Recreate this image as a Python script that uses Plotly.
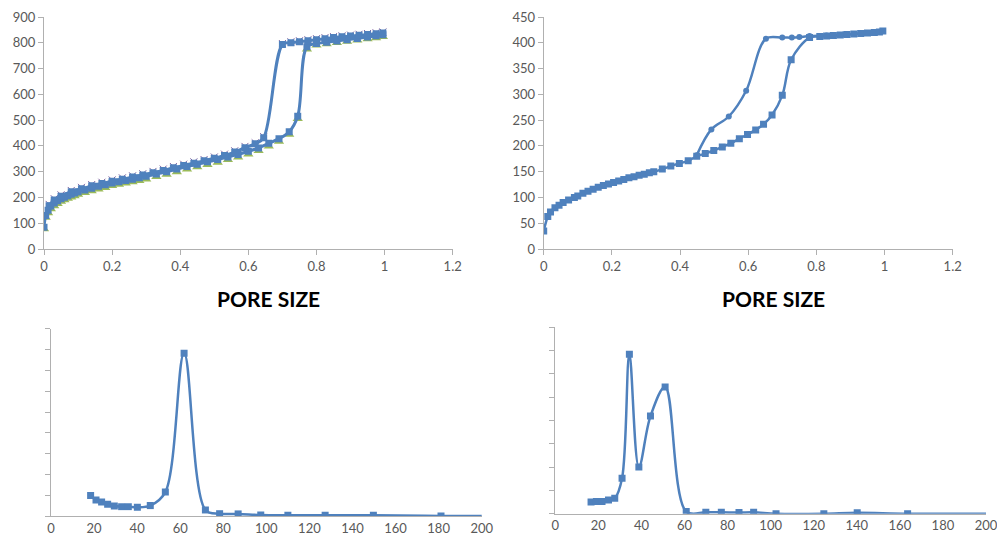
import plotly.graph_objects as go

# ---------------- Data ----------------
# Top-left isotherm (relative pressure vs adsorbed volume)
tl_ads_x = [0.0, 0.005, 0.012, 0.02, 0.03, 0.04, 0.05, 0.06, 0.07, 0.08, 0.09, 0.10, 0.12, 0.14, 0.16,
            0.18, 0.20, 0.22, 0.24, 0.26, 0.28, 0.30, 0.33, 0.36, 0.39, 0.42, 0.45, 0.48, 0.51, 0.54,
            0.57, 0.60, 0.63, 0.66, 0.69, 0.72, 0.745, 0.772, 0.80, 0.83, 0.86, 0.89, 0.92, 0.95, 0.975, 0.995]
tl_ads_y = [84, 130, 150, 167, 178, 187, 195, 201, 207, 212, 217, 222, 229, 236, 243,
            249, 256, 261, 266, 271, 276, 282, 291, 300, 310, 320, 329, 338, 347, 357,
            367, 379, 392, 410, 428, 455, 515, 785, 797, 802, 807, 812, 817, 822, 827, 831]
tl_tri_y = [78, 122, 140, 155, 167, 176, 184, 190, 196, 201, 206, 211, 218, 225, 232,
            238, 245, 250, 255, 260, 265, 271, 280, 289, 299, 309, 318, 327, 336, 346,
            356, 368, 381, 399, 417, 444, 505, 775, 790, 795, 800, 805, 810, 815, 819, 823]
tl_des_x = [0.995, 0.975, 0.95, 0.925, 0.90, 0.875, 0.85, 0.825, 0.80, 0.775, 0.75, 0.725, 0.70,
            0.645, 0.62, 0.59, 0.56, 0.53, 0.50, 0.47, 0.44, 0.41, 0.38, 0.35, 0.32, 0.29, 0.26,
            0.23, 0.20, 0.17, 0.14, 0.11, 0.08, 0.05, 0.03, 0.015]
tl_des_y = [838, 835, 832, 829, 826, 823, 820, 816, 812, 808, 804, 800, 793,
            432, 408, 393, 376, 363, 352, 342, 333, 324, 315, 305, 296, 287, 279,
            271, 263, 254, 245, 234, 222, 205, 190, 168]
tl_x_y = [842, 839, 836, 833, 830, 827, 824, 820, 816, 812, 808, 804, 797,
          436, 412, 398, 381, 368, 357, 347, 338, 329, 320, 310, 301, 292, 284,
          276, 268, 259, 250, 239, 227, 210, 195, 173]

# Top-right isotherm
tr_sq_x = [0.0, 0.012, 0.02, 0.033, 0.045, 0.057, 0.073, 0.09, 0.10, 0.115, 0.13, 0.145, 0.16, 0.175,
           0.19, 0.205, 0.22, 0.235, 0.25, 0.265, 0.28, 0.295, 0.31, 0.323, 0.348, 0.373, 0.398,
           0.424, 0.449, 0.474, 0.499, 0.524, 0.549, 0.574, 0.598, 0.622, 0.645, 0.67, 0.70, 0.726,
           0.78, 0.81, 0.83, 0.85, 0.87, 0.89, 0.91, 0.93, 0.95, 0.97, 0.985, 0.995]
tr_sq_y = [35, 63, 72, 80, 85, 90, 95, 100, 103, 108, 112, 116, 120, 123,
           126, 129, 132, 135, 138, 140, 143, 145, 148, 150, 155, 161, 166,
           171, 180, 185, 191, 198, 205, 214, 222, 231, 242, 260, 298, 367,
           410, 412, 413, 414, 415, 416, 417, 418, 419, 420, 421, 423]
tr_ci_x = [0.449, 0.492, 0.543, 0.594, 0.652, 0.70, 0.728, 0.75, 0.78, 0.83, 0.88, 0.93, 0.97, 0.995]
tr_ci_y = [182, 232, 257, 307, 408, 410, 410, 411, 413, 414, 416, 418, 420, 423]

# Bottom-left pore size distribution
bl_x = [18.4, 20.9, 23.5, 26.3, 29.4, 32.8, 35.9, 40.1, 46.1, 53.1, 61.8, 71.7, 78.3, 86.9,
        97.4, 110, 127.3, 149.7, 181.1, 215]
bl_y = [0.98, 0.77, 0.67, 0.56, 0.48, 0.45, 0.45, 0.42, 0.50, 1.15, 7.82, 0.29, 0.11, 0.10,
        0.05, 0.04, 0.04, 0.04, 0.0, 0.0]

# Bottom-right pore size distribution
br_x = [16.6, 19.1, 21.7, 24.7, 27.6, 31.0, 34.4, 38.8, 44.2, 51.0, 60.8, 69.9, 77.1, 85.3,
        92.1, 102.5, 124.7, 140.2, 163.6, 215]
br_y = [0.50, 0.52, 0.52, 0.59, 0.66, 1.52, 6.84, 2.00, 4.19, 5.44, 0.09, 0.06, 0.06, 0.05,
        0.06, 0.0, 0.0, 0.04, 0.0, 0.0]

top_x_ticks = [0, 0.2, 0.4, 0.6, 0.8, 1.0, 1.2]
bottom_x_ticks = [0, 20, 40, 60, 80, 100, 120, 140, 160, 180, 200]
title_text = "PORE SIZE"

# ---------------- Styles ----------------
BLUE = "#4F81BD"
GREEN = "#9BBB59"
PURPLE = "#8064A2"
AXIS = "#B0B0B0"
TICKFONT = dict(family="Lato, Carlito, sans-serif", size=13, color="#595959")

fig = go.Figure()

# Top-left
fig.add_trace(go.Scatter(x=tl_ads_x, y=tl_tri_y, mode="markers", xaxis="x", yaxis="y",
                         marker=dict(symbol="triangle-up", size=9, color=GREEN)))
fig.add_trace(go.Scatter(x=tl_des_x, y=tl_x_y, mode="markers", xaxis="x", yaxis="y",
                         marker=dict(symbol="x-thin", size=7, line=dict(width=1, color=PURPLE))))
fig.add_trace(go.Scatter(x=tl_ads_x, y=tl_ads_y, mode="lines+markers", xaxis="x", yaxis="y",
                         line=dict(color=BLUE, width=3, shape="spline"),
                         marker=dict(symbol="square", size=7, color=BLUE)))
fig.add_trace(go.Scatter(x=tl_des_x, y=tl_des_y, mode="lines+markers", xaxis="x", yaxis="y",
                         line=dict(color=BLUE, width=3, shape="spline"),
                         marker=dict(symbol="square", size=7, color=BLUE)))

# Top-right
fig.add_trace(go.Scatter(x=tr_ci_x, y=tr_ci_y, mode="lines+markers", xaxis="x2", yaxis="y2",
                         line=dict(color=BLUE, width=2.5, shape="spline"),
                         marker=dict(symbol="circle", size=6, color=BLUE)))
fig.add_trace(go.Scatter(x=tr_sq_x, y=tr_sq_y, mode="lines+markers", xaxis="x2", yaxis="y2",
                         line=dict(color=BLUE, width=2.5, shape="spline"),
                         marker=dict(symbol="square", size=7, color=BLUE)))

# Bottom-left
fig.add_trace(go.Scatter(x=bl_x, y=bl_y, mode="lines+markers", xaxis="x3", yaxis="y3",
                         line=dict(color=BLUE, width=2.5, shape="spline"),
                         marker=dict(symbol="square", size=7, color=BLUE)))
# Bottom-right
fig.add_trace(go.Scatter(x=br_x, y=br_y, mode="lines+markers", xaxis="x4", yaxis="y4",
                         line=dict(color=BLUE, width=2.5, shape="spline"),
                         marker=dict(symbol="square", size=7, color=BLUE)))

W, H = 997, 539


def xd(a, b):
    return [a / W, b / W]


def yd(top, bottom):
    return [(H - bottom) / H, (H - top) / H]


common = dict(showgrid=False, zeroline=False, showline=True, linecolor=AXIS, linewidth=1,
              tickfont=TICKFONT, ticks="outside", tickcolor=AXIS, ticklen=5, automargin=False,
              ticklabeloverflow="allow")

fig.update_layout(
    width=W, height=H, margin=dict(l=0, r=0, t=0, b=0),
    paper_bgcolor="white", plot_bgcolor="white", showlegend=False,
    xaxis=dict(domain=xd(44, 452.7), range=[0, 1.2], tickvals=top_x_ticks, anchor="y", **common),
    yaxis=dict(domain=yd(17, 249), range=[0, 900], dtick=100, anchor="x", **common),
    xaxis2=dict(domain=xd(543.7, 952.7), range=[0, 1.2], tickvals=top_x_ticks, anchor="y2", **common),
    yaxis2=dict(domain=yd(17, 249), range=[0, 450], dtick=50, anchor="x2", **common),
    xaxis3=dict(domain=xd(51, 481.7), range=[0, 200], tickvals=bottom_x_ticks, anchor="y3",
                **{**common, "ticks": ""}),
    yaxis3=dict(domain=yd(328.8, 516), range=[0, 9], dtick=1, showticklabels=False, anchor="x3", **common),
    xaxis4=dict(domain=xd(555.3, 986), range=[0, 200], tickvals=bottom_x_ticks, anchor="y4",
                **{**common, "ticks": ""}),
    yaxis4=dict(domain=yd(327.3, 513.7), range=[0, 8], dtick=1, showticklabels=False, anchor="x4", **common),
    annotations=[
        dict(text=title_text, x=268 / W, y=(H - 298) / H, xref="paper", yref="paper",
             showarrow=False, xanchor="center", yanchor="middle",
             font=dict(family="Lato, Carlito, sans-serif", size=21, color="#000000", weight="bold")),
        dict(text=title_text, x=773 / W, y=(H - 298) / H, xref="paper", yref="paper",
             showarrow=False, xanchor="center", yanchor="middle",
             font=dict(family="Lato, Carlito, sans-serif", size=21, color="#000000", weight="bold")),
    ],
)

fig.write_html("out.html", config={"displayModeBar": False},
               post_script="document.body.style.margin='0';document.body.style.overflow='hidden';")
